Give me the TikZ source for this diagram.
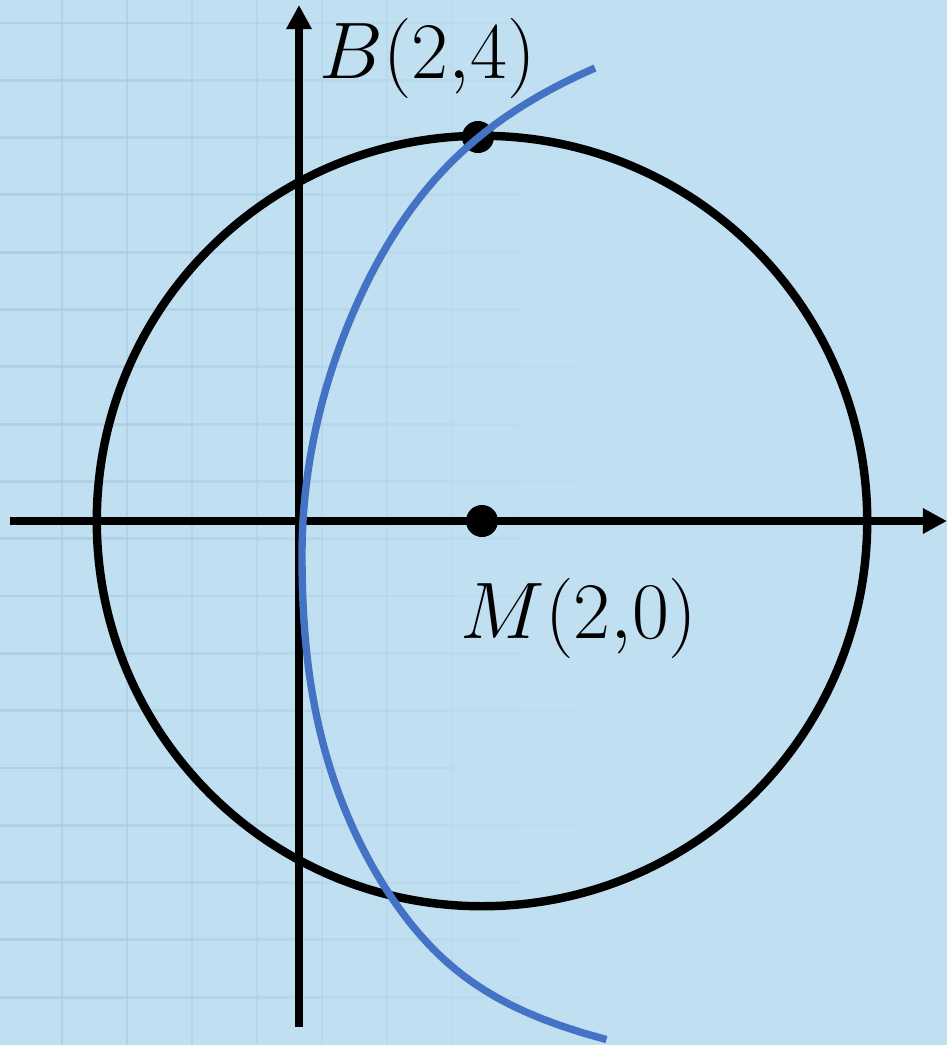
\documentclass[tikz,border=0pt]{standalone}
\usetikzlibrary{arrows.meta}
\definecolor{cbg}{HTML}{C0DFF1}
\definecolor{cgrid}{HTML}{A8CBE2}
\definecolor{cblue}{HTML}{4472C4}
\tikzset{
  every picture/.style={line width=2.4pt},
  gridline/.style={draw=cgrid, line width=0.8pt},
  axis/.style={-{Triangle[length=2.4mm, width=2.4mm]}, line width=2.4pt},
  curve/.style={draw=cblue, line width=2.1pt, line join=round},
  dot/.style={circle, fill=black, inner sep=0pt, minimum size=3.2mm},
  lbl/.style={font=\huge, scale=1.1, inner sep=0pt},
}
\begin{document}
\begin{tikzpicture}[x=0.01cm, y=-0.01cm]
  \useasboundingbox (0,0) rectangle (947,1045);
  \fill[cbg] (0,0) rectangle (947,1045);
  % faded grid on the left
  \foreach \i in {0,...,8} {
    \pgfmathsetmacro{\xa}{-3+65*\i}
    \pgfmathsetmacro{\op}{0.75*(1-\i/9)}
    \draw[gridline, opacity=\op] (\xa,0) -- (\xa,1045);
    \foreach \j in {0,...,18}
      \draw[gridline, opacity=\op] (\xa,23+57.3*\j) -- (\xa+65,23+57.3*\j);
  }
  \coordinate (xs) at (10,521);
  \coordinate (xe) at (947,521);
  \coordinate (ys) at (299,1027);
  \coordinate (ye) at (299,5);
  \node[dot] (M) at (482,521) {};
  \node[dot] (B) at (478,137) {};
  \draw (M) circle (3.85cm);
  \draw[axis] (xs) -- (xe);
  \draw[axis] (ys) -- (ye);
  % upper and lower branch of the blue curve
  \draw[curve] plot[domain=1:0, samples=70, variable=\u]
      ({302+293*(0.7*\u^2+0.3*\u^8)}, {555-487*\u})
    -- plot[domain=0:1, samples=70, variable=\u]
      ({302+306*(0.3*\u^2+0.4*\u^3+0.3*\u^14)}, {555+485*\u});
  \node[lbl, anchor=base west] (Blbl) at (315,78) {$B(2{,}4)$};
  \node[lbl, anchor=base west] (Mlbl) at (456,638) {$M(2{,}0)$};
\end{tikzpicture}
\end{document}
